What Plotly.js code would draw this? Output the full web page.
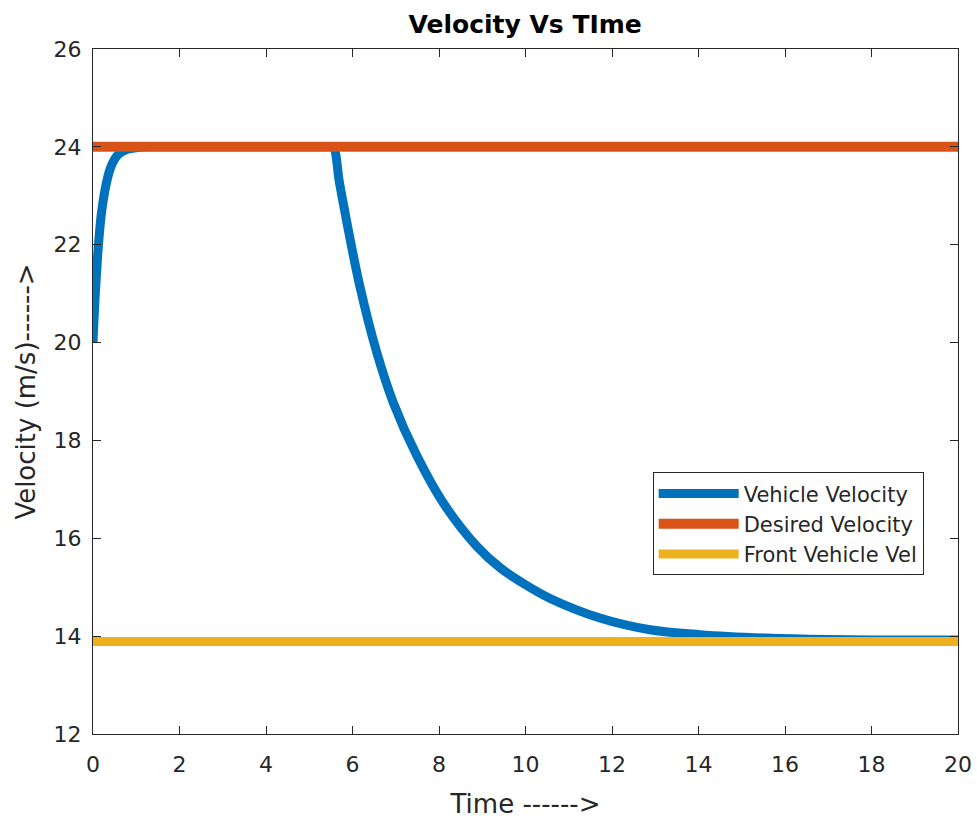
<!DOCTYPE html>
<html>
<head>
<meta charset="utf-8">
<script src="https://cdn.plot.ly/plotly-3.0.1.min.js"></script>
<style>html,body{margin:0;padding:0;background:#fff;}#chart{width:977px;height:819px;}</style>
</head>
<body>
<div id="chart"></div>
<script>
// Values
var vehicleTime = [0,0.05,0.1,0.15,0.2,0.3,0.4,0.5,0.6,0.8,1.0,1.3,2,3,4,5,5.45,5.55,5.7,5.86,6.17,6.56,6.94,7.48,8.1,8.87,9.41,10.0,10.57,11.72,12.88,14.03,15.57,17,18.5,20];
var vehicleVel  = [20.0,20.95,21.68,22.25,22.68,23.22,23.56,23.75,23.86,23.95,23.98,24.0,24,24,24,24,24,24.0,23.26,22.5,21.15,19.8,18.78,17.7,16.72,15.84,15.4,15.05,14.77,14.37,14.13,14.03,13.96,13.93,13.92,13.92];
var desiredTime = [0,20];
var desiredVel  = [24,24];
var frontTime   = [0,20];
var frontVel    = [13.89,13.89];
var xTicks = [0,2,4,6,8,10,12,14,16,18,20];
var yTicks = [12,14,16,18,20,22,24,26];
var seriesNames = ['Vehicle Velocity','Desired Velocity','Front Vehicle Vel'];

var axisColor = '#262626';
var fontFam = 'DejaVu Sans, Liberation Sans, Arial, sans-serif';

var traces = [
  {x: vehicleTime, y: vehicleVel, name: seriesNames[0], mode: 'lines',
   line: {color: '#0072BD', width: 9, shape: 'spline', smoothing: 1}},
  {x: desiredTime, y: desiredVel, name: seriesNames[1], mode: 'lines',
   line: {color: '#D95319', width: 10}},
  {x: frontTime, y: frontVel, name: seriesNames[2], mode: 'lines',
   line: {color: '#EDB120', width: 9}}
];

var layout = {
  width: 977, height: 819,
  paper_bgcolor: '#fff', plot_bgcolor: '#fff',
  margin: {l: 93, r: 19, t: 49, b: 85},
  font: {family: fontFam, color: axisColor},
  title: {text: '<b>Velocity Vs TIme</b>', x: 0.5375, xanchor: 'center', y: 0.971, yanchor: 'middle',
          font: {size: 25, color: '#000', family: fontFam}},
  showlegend: true,
  legend: {x: 0.647, y: 0.382, xanchor: 'left', yanchor: 'top',
           bgcolor: '#fff', bordercolor: axisColor, borderwidth: 1,
           font: {size: 21, color: axisColor, family: fontFam},
           itemwidth: 80, tracegroupgap: 0},
  xaxis: {range: [0, 20], tickvals: xTicks, ticktext: xTicks.map(String),
          ticks: 'inside', ticklen: 8, tickcolor: axisColor, tickwidth: 1,
          showline: true, linecolor: axisColor, linewidth: 1, mirror: 'ticks',
          showgrid: false, zeroline: false, ticklabelstandoff: 11,
          tickfont: {size: 22, color: axisColor, family: fontFam},
          title: {text: 'Time ------>', standoff: 18, font: {size: 26, color: axisColor, family: fontFam}}},
  yaxis: {range: [12, 26], tickvals: yTicks, ticktext: yTicks.map(String),
          ticks: 'inside', ticklen: 8, tickcolor: axisColor, tickwidth: 1,
          showline: true, linecolor: axisColor, linewidth: 1, mirror: 'ticks',
          showgrid: false, zeroline: false, ticklabelstandoff: 6,
          tickfont: {size: 22, color: axisColor, family: fontFam},
          title: {text: 'Velocity (m/s)------>', standoff: 10, font: {size: 26, color: axisColor, family: fontFam}}}
};

Plotly.newPlot('chart', traces, layout, {displayModeBar: false, staticPlot: true});
</script>
</body>
</html>
